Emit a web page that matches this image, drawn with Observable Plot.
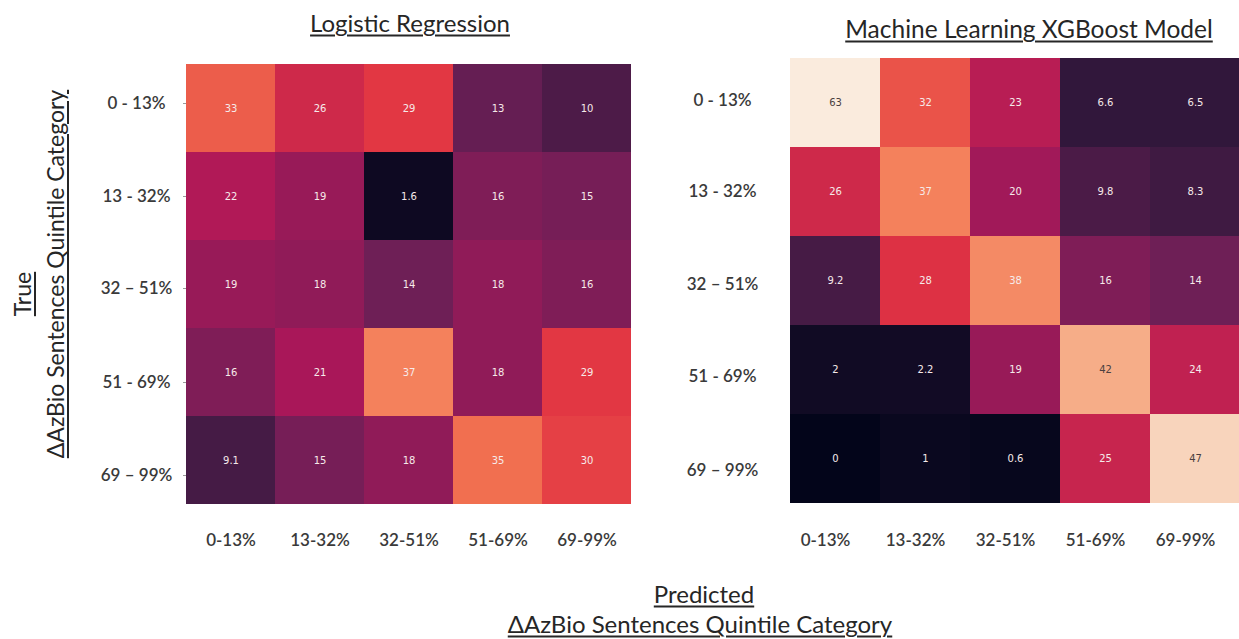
<!DOCTYPE html>
<html>
<head>
<meta charset="utf-8">
<script src="https://cdn.jsdelivr.net/npm/d3@7"></script>
<script src="https://cdn.jsdelivr.net/npm/@observablehq/plot@0.6"></script>
<style>
  body { margin: 0; background: #fff; }
  #page { position: relative; width: 1239px; height: 639px; overflow: hidden; background: #fff;
          font-family: Lato, "Open Sans", sans-serif; color: #262626; }
  .panel { position: absolute; top: 0; }
  .label { position: absolute; white-space: nowrap; text-decoration: underline;
           text-decoration-thickness: 1.5px; text-underline-offset: 3px; transform: translate(-50%, -50%); }
  .label.rot { transform: translate(-50%, -50%) rotate(-90deg); }
</style>
</head>
<body>
<div id="page"></div>
<script>
// True (rows) and predicted (columns) ΔAzBio quintile categories
const trueCategories = ["0 - 13%", "13 - 32%", "32 – 51%", "51 - 69%", "69 – 99%"];
const predCategories = ["0-13%", "13-32%", "32-51%", "51-69%", "69-99%"];

// Confusion matrices (%), rows = true category, columns = predicted category
const logisticValues = [
  [33, 26, 29, 13, 10],
  [22, 19, 1.6, 16, 15],
  [19, 18, 14, 18, 16],
  [16, 21, 37, 18, 29],
  [9.1, 15, 18, 35, 30]
];
const xgboostValues = [
  [63, 32, 23, 6.6, 6.5],
  [26, 37, 20, 9.8, 8.3],
  [9.2, 28, 38, 16, 14],
  [2, 2.2, 19, 42, 24],
  [0, 1, 0.6, 25, 47]
];

const panelTitles = ["Logistic Regression", "Machine Learning XGBoost Model"];
const axisTitleTrue = ["True", "ΔAzBio Sentences Quintile Category"];
const axisTitlePred = ["Predicted", "ΔAzBio Sentences Quintile Category"];

// "rocket" sequential palette, evenly spaced stops
const rocketStops = ["#03051a", "#35193e", "#701f57", "#ad1759", "#e13342", "#f37651", "#f6b48f", "#faebdd"];
const rocket = d3.piecewise(d3.interpolateRgb, rocketStops);
const colorDomain = [0, 50];

// annotation colour follows the cell's luminance (light text on dark cells)
function luminance(v) {
  const t = Math.max(0, Math.min(1, (v - colorDomain[0]) / (colorDomain[1] - colorDomain[0])));
  const c = d3.rgb(rocket(t));
  const lin = x => { x /= 255; return x <= 0.03928 ? x / 12.92 : Math.pow((x + 0.055) / 1.055, 2.4); };
  return 0.2126 * lin(c.r) + 0.7152 * lin(c.g) + 0.0722 * lin(c.b);
}

const tickFont = {fontSize: 17, fontWeight: 600, fill: "#3a3a3a"};

function heatmap(values, opts) {
  const cells = values.flatMap((row, i) => row.map((v, j) => ({t: trueCategories[i], p: predCategories[j], v})));
  const rowAxes = trueCategories.map((c, i) => Plot.axisY([c], {
    label: null, tickSize: opts.tickSize, tickPadding: opts.yPad, textAnchor: "middle",
    stroke: "#999", dy: opts.rowNudge[i], ...tickFont
  }));
  return Plot.plot({
    width: opts.width, height: 639,
    marginLeft: opts.ml, marginRight: opts.mr, marginTop: opts.mt, marginBottom: 639 - opts.bottom,
    style: {fontFamily: "Lato, 'Open Sans', sans-serif", background: "transparent", overflow: "visible"},
    x: {domain: predCategories, padding: 0, axis: null},
    y: {domain: trueCategories, padding: 0, axis: null},
    color: {type: "linear", domain: colorDomain, interpolate: rocket, clamp: true},
    marks: [
      Plot.cell(cells, {x: "p", y: "t", fill: "v"}),
      Plot.text(cells, {x: "p", y: "t", text: d => String(d.v), filter: d => luminance(d.v) < 0.408,
        fill: "#f6eaea", fontFamily: "DejaVu Sans", fontSize: 10}),
      Plot.text(cells, {x: "p", y: "t", text: d => String(d.v), filter: d => luminance(d.v) >= 0.408,
        fill: "#4a4040", fontFamily: "DejaVu Sans", fontSize: 10}),
      ...rowAxes,
      Plot.axisX({label: null, tickSize: 0, tickPadding: opts.xPad, dx: opts.xDx, ...tickFont})
    ]
  });
}

const page = document.getElementById("page");

function place(node, left) {
  node.classList.add("panel");
  node.style.left = left + "px";
  page.appendChild(node);
}

place(heatmap(logisticValues, {width: 640, ml: 186, mr: 9, mt: 62, bottom: 506,
  tickSize: 3, yPad: 47, rowNudge: [-5, 0, 4, 10, 15], xPad: 27, xDx: 0}), 0);
place(heatmap(xgboostValues, {width: 600, ml: 150, mr: 0, mt: 57, bottom: 504,
  tickSize: 0, yPad: 68, rowNudge: [-2, 0, 4, 7, 12], xPad: 29, xDx: -10}), 640);

function label(text, x, y, size, rotate) {
  const el = document.createElement("div");
  el.className = "label" + (rotate ? " rot" : "");
  el.textContent = text;
  el.style.left = x + "px";
  el.style.top = y + "px";
  el.style.fontSize = size + "px";
  page.appendChild(el);
}

label(panelTitles[0], 410, 22, 24);
label(panelTitles[1], 1029, 28, 24.5);
label(axisTitleTrue[0], 22, 294, 23, true);
label(axisTitleTrue[1], 55, 274, 23, true);
label(axisTitlePred[0], 704, 593, 24);
label(axisTitlePred[1], 700, 623, 24);
</script>
</body>
</html>
